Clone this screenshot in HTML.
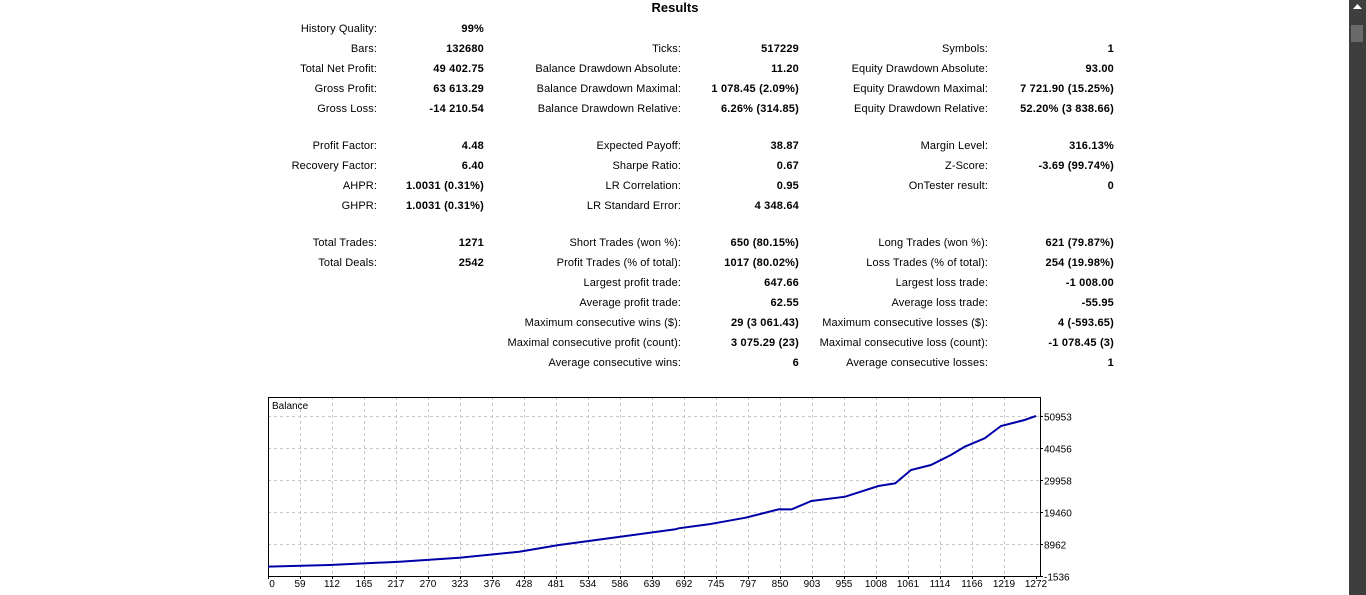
<!DOCTYPE html>
<html><head><meta charset="utf-8"><style>
body{margin:0;width:1366px;height:595px;background:#fff;overflow:hidden;font-family:"Liberation Sans",Arial,sans-serif;font-size:11px;color:#000;position:relative}
.t{position:absolute;white-space:nowrap;line-height:14px}
.l{text-align:right;letter-spacing:0.1px}
.v{text-align:right;font-weight:bold;letter-spacing:0.2px}
#sb{position:absolute;left:1349px;top:0;width:17px;height:595px;background:#3e3e3e}
#thumb{position:absolute;left:2px;top:25px;width:12px;height:17px;background:#6a6a6a}
</style></head><body>
<div class="t" style="left:600px;width:150px;top:0;text-align:center;font-weight:bold;font-size:13px;line-height:16px">Results</div>
<div id="rows"></div>
<svg id="chart" width="1366" height="595" style="position:absolute;left:0;top:0"></svg>
<div id="sb"><svg width="17" height="20" style="position:absolute;left:0;top:0"><polygon points="4,9 8.5,4 13,9" fill="#fff"/></svg><div id="thumb"></div></div>
<script>
const rowsData=[
[29,[["History Quality:","99%"],null,null]],
[49,[["Bars:","132680"],["Ticks:","517229"],["Symbols:","1"]]],
[69,[["Total Net Profit:","49 402.75"],["Balance Drawdown Absolute:","11.20"],["Equity Drawdown Absolute:","93.00"]]],
[89,[["Gross Profit:","63 613.29"],["Balance Drawdown Maximal:","1 078.45 (2.09%)"],["Equity Drawdown Maximal:","7 721.90 (15.25%)"]]],
[109,[["Gross Loss:","-14 210.54"],["Balance Drawdown Relative:","6.26% (314.85)"],["Equity Drawdown Relative:","52.20% (3 838.66)"]]],
[146,[["Profit Factor:","4.48"],["Expected Payoff:","38.87"],["Margin Level:","316.13%"]]],
[166,[["Recovery Factor:","6.40"],["Sharpe Ratio:","0.67"],["Z-Score:","-3.69 (99.74%)"]]],
[186,[["AHPR:","1.0031 (0.31%)"],["LR Correlation:","0.95"],["OnTester result:","0"]]],
[206,[["GHPR:","1.0031 (0.31%)"],["LR Standard Error:","4 348.64"],null]],
[243,[["Total Trades:","1271"],["Short Trades (won %):","650 (80.15%)"],["Long Trades (won %):","621 (79.87%)"]]],
[263,[["Total Deals:","2542"],["Profit Trades (% of total):","1017 (80.02%)"],["Loss Trades (% of total):","254 (19.98%)"]]],
[283,[null,["Largest profit trade:","647.66"],["Largest loss trade:","-1 008.00"]]],
[303,[null,["Average profit trade:","62.55"],["Average loss trade:","-55.95"]]],
[323,[null,["Maximum consecutive wins ($):","29 (3 061.43)"],["Maximum consecutive losses ($):","4 (-593.65)"]]],
[343,[null,["Maximal consecutive profit (count):","3 075.29 (23)"],["Maximal consecutive loss (count):","-1 078.45 (3)"]]],
[363,[null,["Average consecutive wins:","6"],["Average consecutive losses:","1"]]]
];
const colL=[377,681,988], colV=[484,799,1114];
const rc=document.getElementById('rows');
rowsData.forEach(([y,cols])=>{cols.forEach((c,i)=>{if(!c)return;
 const a=document.createElement('div');a.className='t l';a.textContent=c[0];
 a.style.right=(1366-colL[i])+'px';a.style.top=(y-7)+'px';
 
 
 rc.appendChild(a);
 const b=document.createElement('div');b.className='t v';b.textContent=c[1];
 b.style.right=(1366-colV[i])+'px';b.style.top=(y-7)+'px';
 
 
 rc.appendChild(b);});});

const xLabels=["0","59","112","165","217","270","323","376","428","481","534","586","639","692","745","797","850","903","955","1008","1061","1114","1166","1219","1272"];
const yLabels=["-1536","8962","19460","29958","40456","50953"];
const trades=[0,102,218,317,416,482,565,675,680,730,791,846,867,900,956,1011,1039,1065,1098,1131,1154,1187,1214,1253,1272];
const balance=[1550,2073,3155,4467,6436,8634,10832,13784,14113,15425,17590,20346,20300,23069,24479,27989,28875,33238,34879,38159,40882,43638,47673,49641,50953];

const L=268,R=1040,T=397,B=576,X0=268,X1=1036;
const yMin=-1536;
const xs=i=>X0+(X1-X0)*i/1272;
const ys=v=>B-(v-yMin)/10498*32;
const svg=document.getElementById('chart');const NS='http://www.w3.org/2000/svg';
const FF='Liberation Sans,Arial,sans-serif';
function el(t,a){const e=document.createElementNS(NS,t);for(const k in a)e.setAttribute(k,a[k]);svg.appendChild(e);return e;}
xLabels.forEach((lab,i)=>{const x=X0+i*32;
 if(i>0&&i<24){const g=el('line',{x1:x+0.5,x2:x+0.5,y1:T,y2:B,stroke:'#c8c8c8','stroke-dasharray':'3,3'});
 
 }
 el('line',{x1:x+0.5,x2:x+0.5,y1:B,y2:B+3,stroke:'#000'});
 const t=el('text',{x:x+(i==0?4:0),y:B+11,'text-anchor':'middle','font-size':'10','font-family':FF});t.textContent=lab;
 
 });
yLabels.forEach((lab,i)=>{const y=Math.round(ys(+lab))+0.5;
 if(i>0){const g=el('line',{x1:L,x2:R,y1:y,y2:y,stroke:'#c8c8c8','stroke-dasharray':'3,3'});
 
 }
 el('line',{x1:R,x2:R+3,y1:y,y2:y,stroke:'#000'});
 const t=el('text',{x:R+4,y:y+4,'font-size':'10','font-family':FF});t.textContent=lab;
 
 });
const fr=el('rect',{x:L+0.5,y:T+0.5,width:R-L,height:B-T,fill:'none',stroke:'#000'});


const ttl=el('text',{x:L+4,y:T+12,'font-size':'10','font-family':FF});ttl.textContent='Balance';


const pts=trades.map((t,i)=>xs(t).toFixed(1)+','+ys(balance[i]).toFixed(1)).join(' ');
const line=el('polyline',{points:pts,fill:'none',stroke:'#0000a8','stroke-width':'2'});


</script>
</body></html>
